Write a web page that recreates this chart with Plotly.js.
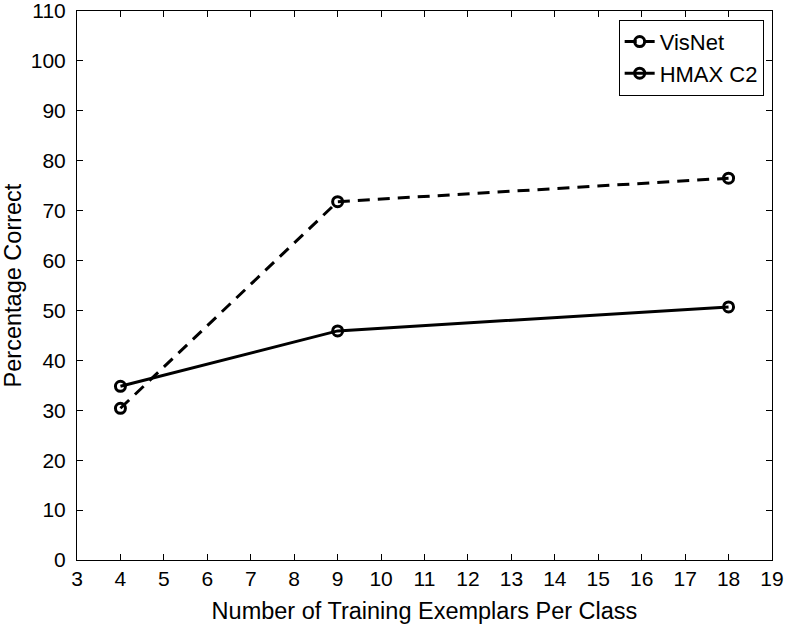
<!DOCTYPE html>
<html>
<head>
<meta charset="utf-8">
<script src="https://cdn.plot.ly/plotly-3.0.1.min.js"></script>
<style>html,body{margin:0;padding:0;background:#fff;}#chart{width:786px;height:627px;}</style>
</head>
<body>
<div id="chart"></div>
<script>
const exemplars = [4, 9, 18];
const visnet = [30.4, 71.8, 76.5];
const hmax = [34.8, 45.9, 50.7];
const xTicks = [3,4,5,6,7,8,9,10,11,12,13,14,15,16,17,18,19];
const yTicks = [0,10,20,30,40,50,60,70,80,90,100,110];

const fam = 'Liberation Sans, Arial, sans-serif';
const titleFont = {family: fam, size: 23.5, color: '#000'};
const tickFont = {family: fam, size: 21, color: '#000'};

const traces = [
  {x: exemplars, y: visnet, name: 'VisNet', mode: 'lines+markers',
   line: {color: '#000', width: 3, dash: '12px,8px'},
   marker: {symbol: 'circle-open', size: 10, color: '#000', line: {width: 3, color: '#000'}}},
  {x: exemplars, y: hmax, name: 'HMAX C2', mode: 'lines+markers',
   line: {color: '#000', width: 3},
   marker: {symbol: 'circle-open', size: 10, color: '#000', line: {width: 3, color: '#000'}}}
];

const layout = {
  width: 786, height: 627,
  margin: {l: 77, r: 14, t: 11, b: 67},
  paper_bgcolor: '#fff', plot_bgcolor: '#fff',
  font: tickFont,
  showlegend: true,
  legend: {x: 0.988, y: 0.984, xanchor: 'right', yanchor: 'top',
           bordercolor: '#000', borderwidth: 1, bgcolor: '#fff',
           font: {family: fam, size: 22, color: '#000'}, tracegroupgap: 0},
  xaxis: {range: [3, 19], tickvals: xTicks, ticktext: xTicks.map(String),
          ticks: 'inside', ticklen: 6, tickcolor: '#000', showgrid: false, zeroline: false,
          showline: true, linecolor: '#000', linewidth: 1, mirror: 'ticks',
          tickfont: tickFont, ticklabeloverflow: 'allow',
          title: {text: 'Number of Training Exemplars Per Class', font: titleFont, standoff: 13}},
  yaxis: {range: [0, 110], tickvals: yTicks, ticktext: yTicks.map(String),
          ticks: 'inside', ticklen: 6, tickcolor: '#000', showgrid: false, zeroline: false,
          showline: true, linecolor: '#000', linewidth: 1, mirror: 'ticks',
          tickfont: tickFont, ticklabelstandoff: 6, ticklabeloverflow: 'allow',
          title: {text: 'Percentage Correct', font: titleFont, standoff: 6}}
};

Plotly.newPlot('chart', traces, layout, {displayModeBar: false, staticPlot: true});
</script>
</body>
</html>
